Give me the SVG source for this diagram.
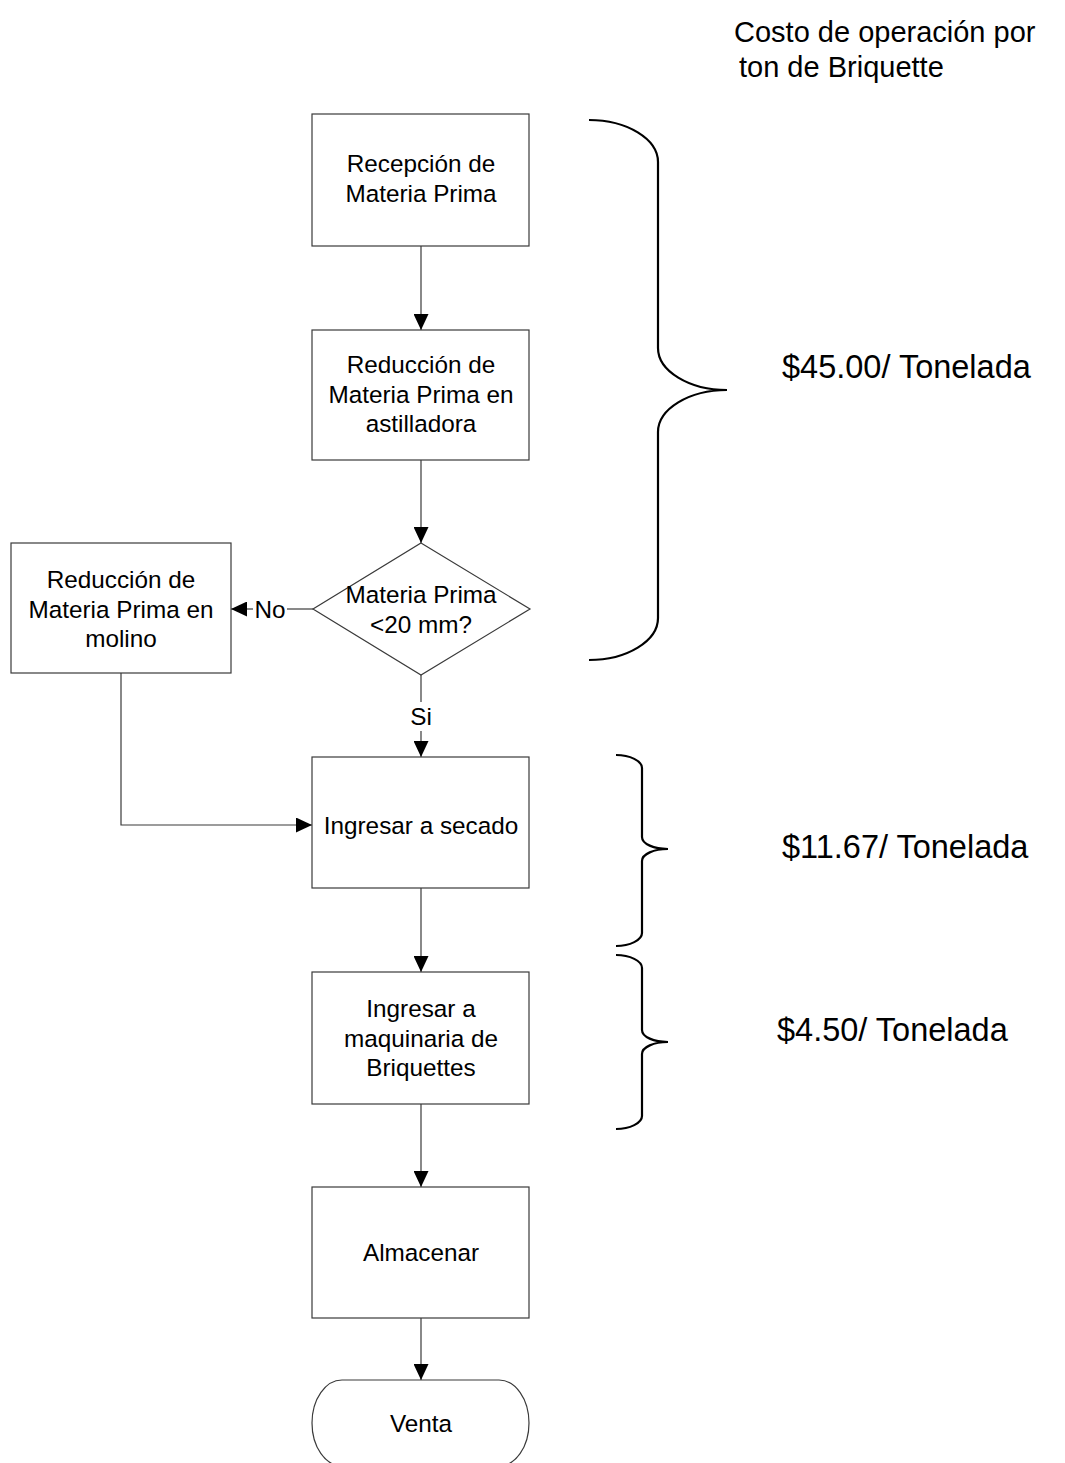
<svg xmlns="http://www.w3.org/2000/svg" width="1065" height="1463" viewBox="0 0 1065 1463">
  <defs>
    <marker id="arrow" viewBox="0 0 16 15" refX="16" refY="7.5" markerWidth="16" markerHeight="15" markerUnits="userSpaceOnUse" orient="auto">
      <path d="M0,0 L16,7.5 L0,15 Z" fill="#000"/>
    </marker>
    <style>
      .shape { fill: #fff; stroke: #3a3a3a; stroke-width: 1.2; }
      .conn { fill: none; stroke: #3a3a3a; stroke-width: 1.2; }
      .brace { fill: none; stroke: #000; stroke-width: 2.2; }
      .lbl { font-family: "Liberation Sans", Arial, sans-serif; font-size: 24.3px; fill: #000; text-anchor: middle; }
      .cost { font-family: "Liberation Sans", Arial, sans-serif; font-size: 32.5px; fill: #000; }
      .head { font-family: "Liberation Sans", Arial, sans-serif; font-size: 29px; fill: #000; }
    </style>
  </defs>
  <rect width="1065" height="1463" fill="#fff"/>

  <!-- connectors -->
  <g id="connectors">
    <line class="conn" x1="421" y1="246" x2="421" y2="330" marker-end="url(#arrow)"/>
    <line class="conn" x1="421" y1="460" x2="421" y2="543" marker-end="url(#arrow)"/>
    <line class="conn" x1="313" y1="609" x2="287" y2="609"/>
    <line class="conn" x1="253" y1="609" x2="231" y2="609" marker-end="url(#arrow)"/>
    <text class="lbl" x="270" y="618">No</text>
    <line class="conn" x1="421" y1="675" x2="421" y2="702"/>
    <line class="conn" x1="421" y1="731" x2="421" y2="757" marker-end="url(#arrow)"/>
    <text class="lbl" x="421" y="725">Si</text>
    <polyline class="conn" points="121,673 121,825 312,825" marker-end="url(#arrow)"/>
    <line class="conn" x1="421" y1="888" x2="421" y2="972" marker-end="url(#arrow)"/>
    <line class="conn" x1="421" y1="1104" x2="421" y2="1187" marker-end="url(#arrow)"/>
    <line class="conn" x1="421" y1="1318" x2="421" y2="1380" marker-end="url(#arrow)"/>
  </g>

  <!-- process steps -->
  <g id="recepcion">
    <rect class="shape" x="312" y="114" width="217" height="132"/>
    <text class="lbl" x="421" y="172">Recepción de</text>
    <text class="lbl" x="421" y="202">Materia Prima</text>
  </g>
  <g id="astilladora">
    <rect class="shape" x="312" y="330" width="217" height="130"/>
    <text class="lbl" x="421" y="373">Reducción de</text>
    <text class="lbl" x="421" y="403">Materia Prima en</text>
    <text class="lbl" x="421" y="432">astilladora</text>
  </g>
  <g id="decision">
    <polygon class="shape" points="421,543 530,609 421,675 313,609"/>
    <text class="lbl" x="421" y="603">Materia Prima</text>
    <text class="lbl" x="421" y="633">&lt;20 mm?</text>
  </g>
  <g id="molino">
    <rect class="shape" x="11" y="543" width="220" height="130"/>
    <text class="lbl" x="121" y="588">Reducción de</text>
    <text class="lbl" x="121" y="618">Materia Prima en</text>
    <text class="lbl" x="121" y="647">molino</text>
  </g>
  <g id="secado">
    <rect class="shape" x="312" y="757" width="217" height="131"/>
    <text class="lbl" x="421" y="834">Ingresar a secado</text>
  </g>
  <g id="maquinaria">
    <rect class="shape" x="312" y="972" width="217" height="132"/>
    <text class="lbl" x="421" y="1017">Ingresar a</text>
    <text class="lbl" x="421" y="1047">maquinaria de</text>
    <text class="lbl" x="421" y="1076">Briquettes</text>
  </g>
  <g id="almacenar">
    <rect class="shape" x="312" y="1187" width="217" height="131"/>
    <text class="lbl" x="421" y="1261">Almacenar</text>
  </g>
  <g id="venta">
    <rect class="shape" x="312" y="1380" width="217" height="86" rx="30" ry="43"/>
    <text class="lbl" x="421" y="1432">Venta</text>
  </g>

  <!-- cost braces -->
  <g id="costo-header">
    <text class="head" x="734" y="42">Costo de operación por</text>
    <text class="head" x="739" y="77">ton de Briquette</text>
  </g>
  <g id="costo-1">
    <path class="brace" d="M589,120 C627,120 658,139 658,162 L658,348 C658,371 689,390 727,390 C689,390 658,409 658,432 L658,618 C658,641 627,660 589,660"/>
    <text class="cost" x="782" y="378">$45.00/ Tonelada</text>
  </g>
  <g id="costo-2">
    <path class="brace" d="M616,755 C630,755 642,761 642,768 L642,837 C642,844 654,849 668,849 C654,849 642,854 642,861 L642,933 C642,940 630,946 616,946"/>
    <text class="cost" x="782" y="858">$11.67/ Tonelada</text>
  </g>
  <g id="costo-3">
    <path class="brace" d="M616,955 C630,955 642,961 642,968 L642,1030 C642,1037 654,1042 668,1042 C654,1042 642,1047 642,1054 L642,1116 C642,1123 630,1129 616,1129"/>
    <text class="cost" x="777" y="1041">$4.50/ Tonelada</text>
  </g>
</svg>
